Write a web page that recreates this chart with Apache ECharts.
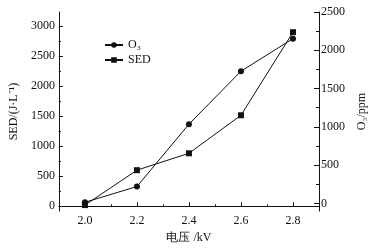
<!DOCTYPE html>
<html>
<head>
<meta charset="utf-8">
<script src="https://cdn.jsdelivr.net/npm/echarts@6/dist/echarts.min.js"></script>
<style>
  html, body { margin: 0; padding: 0; background: #fff; }
  #main { width: 388px; height: 249px; }
</style>
</head>
<body>
<div id="main"></div>
<script>
// 数据
const voltage = [2.0, 2.2, 2.4, 2.6, 2.8]
const o3 = [15, 221, 1035, 1727, 2152]
const sed = [20, 600, 881, 1513, 2894]
const xTicks = [2.0, 2.2, 2.4, 2.6, 2.8]
const xMinor = [2.1, 2.3, 2.5, 2.7]
const sedTicks = [0, 500, 1000, 1500, 2000, 2500, 3000]
const sedMinor = [250, 750, 1250, 1750, 2250, 2750]
const o3Ticks = [0, 500, 1000, 1500, 2000, 2500]
const o3Minor = [250, 750, 1250, 1750, 2250]

const font = 'Liberation Serif, Times New Roman, serif'
const black = '#111'

const chart = echarts.init(document.getElementById('main'))

function pairs (ys) {
    return voltage.map((v, i) => [v, ys[i]])
}

chart.setOption({
    animation: false,
    textStyle: { fontFamily: font, color: black },
    grid: { left: 49, right: 69, top: 12, bottom: 36 },
    legend: {
        orient: 'vertical',
        left: 99,
        top: 34,
        itemWidth: 18,
        itemHeight: 7,
        itemGap: 3,
        textStyle: { fontFamily: font, fontSize: 12, color: black },
        data: ['O₃', 'SED']
    },
    xAxis: [
        {
            type: 'value',
            min: 1.9,
            max: 2.9,
            name: '电压 /kV',
            nameLocation: 'middle',
            nameGap: 18,
            nameTextStyle: { fontFamily: font, fontSize: 12, color: black },
            axisLine: { lineStyle: { color: black, width: 1 } },
            axisTick: { inside: true, length: 4, customValues: xTicks, lineStyle: { color: black } },
            axisLabel: { customValues: xTicks, margin: 4, fontSize: 12, color: black, formatter: v => v.toFixed(1) },
            splitLine: { show: false }
        },
        {
            type: 'value',
            min: 1.9,
            max: 2.9,
            position: 'bottom',
            axisLine: { show: false },
            axisTick: { inside: true, length: 2, customValues: xMinor, lineStyle: { color: black } },
            axisLabel: { show: false },
            splitLine: { show: false }
        }
    ],
    yAxis: [
        {
            type: 'value',
            position: 'left',
            min: -80,
            max: 3230,
            name: 'SED/(J·L⁻¹)',
            nameLocation: 'middle',
            nameRotate: 90,
            nameGap: 30,
            nameTextStyle: { fontFamily: font, fontSize: 12, color: black },
            axisLine: { show: true, lineStyle: { color: black, width: 1 } },
            axisTick: { show: true, inside: true, length: 4, customValues: sedTicks, lineStyle: { color: black } },
            axisLabel: { customValues: sedTicks, margin: 4, fontSize: 12, color: black, formatter: v => String(v) },
            splitLine: { show: false }
        },
        {
            type: 'value',
            position: 'left',
            min: -80,
            max: 3230,
            axisLine: { show: false },
            axisTick: { show: true, inside: true, length: 2, customValues: sedMinor, lineStyle: { color: black } },
            axisLabel: { show: false },
            splitLine: { show: false }
        },
        {
            type: 'value',
            position: 'right',
            min: -100,
            max: 2500,
            name: 'O₃/ppm',
            nameLocation: 'middle',
            nameRotate: 90,
            nameGap: 30,
            nameTextStyle: { fontFamily: font, fontSize: 12, color: black },
            axisLine: { show: true, lineStyle: { color: black, width: 1 } },
            axisTick: { show: true, inside: true, length: 5, customValues: o3Ticks, lineStyle: { color: black } },
            axisLabel: { customValues: o3Ticks, margin: 2, fontSize: 12, color: black, formatter: v => String(v) },
            splitLine: { show: false }
        },
        {
            type: 'value',
            position: 'right',
            min: -100,
            max: 2500,
            axisLine: { show: false },
            axisTick: { show: true, inside: true, length: 3, customValues: o3Minor, lineStyle: { color: black } },
            axisLabel: { show: false },
            splitLine: { show: false }
        }
    ],
    series: [
        {
            name: 'O₃',
            type: 'line',
            yAxisIndex: 2,
            data: pairs(o3),
            symbol: 'circle',
            symbolSize: 6,
            lineStyle: { color: black, width: 1 },
            itemStyle: { color: black }
        },
        {
            name: 'SED',
            type: 'line',
            yAxisIndex: 0,
            data: pairs(sed),
            symbol: 'rect',
            symbolSize: 6,
            lineStyle: { color: black, width: 1 },
            itemStyle: { color: black }
        }
    ]
})
</script>
</body>
</html>
